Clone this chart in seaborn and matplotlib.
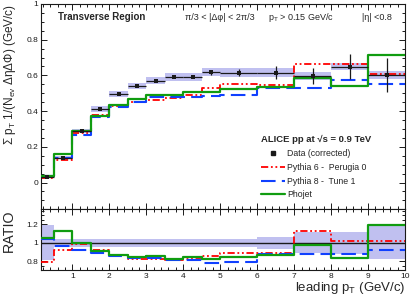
import numpy as np
import pandas as pd
import matplotlib
matplotlib.use('Agg')
import matplotlib.pyplot as plt
from matplotlib.lines import Line2D
from matplotlib.ticker import MultipleLocator, FuncFormatter
import seaborn as sns

sns.set_theme(style="ticks")
plt.rcParams['font.family'] = ['Liberation Sans', 'DejaVu Sans']
plt.rcParams['mathtext.fontset'] = 'custom'
plt.rcParams['mathtext.rm'] = 'Liberation Sans'
plt.rcParams['mathtext.it'] = 'Liberation Sans:italic'
plt.rcParams['mathtext.bf'] = 'Liberation Sans:bold'

# bins of leading pT (GeV/c)
edges = [0.15, 0.5, 1.0, 1.5, 2.0, 2.5, 3.0, 3.5, 4.0, 4.5, 5.0, 6.0, 7.0, 8.0, 9.0, 10.0]

# data (corrected), stat and syst errors
data = [0.033, 0.14, 0.288, 0.41, 0.497, 0.541, 0.570, 0.591, 0.591, 0.617, 0.616, 0.616, 0.597, 0.649, 0.600]
stat = [0.002, 0.004, 0.004, 0.005, 0.005, 0.005, 0.006, 0.006, 0.008, 0.014, 0.018, 0.035, 0.045, 0.07, 0.095]
syst = [0.004, 0.008, 0.013, 0.017, 0.018, 0.019, 0.019, 0.02, 0.02, 0.023, 0.024, 0.024, 0.02, 0.021, 0.022]

# MC predictions
pythia6 = [0.026, 0.128, 0.28, 0.38, 0.428, 0.452, 0.464, 0.476, 0.49, 0.527, 0.55, 0.545, 0.665, 0.663, 0.608]
pythia8 = [0.034, 0.135, 0.264, 0.366, 0.425, 0.452, 0.477, 0.48, 0.48, 0.486, 0.489, 0.53, 0.528, 0.573, 0.553]
phojet = [0.035, 0.157, 0.286, 0.375, 0.435, 0.468, 0.491, 0.491, 0.508, 0.508, 0.526, 0.537, 0.583, 0.542, 0.717]

# MC / data
ratio_p6 = [0.79, 0.924, 0.985, 0.927, 0.87, 0.83, 0.82, 0.81, 0.83, 0.855, 0.893, 0.885, 1.13, 1.025, 1.018]
ratio_p8 = [1.044, 0.963, 0.924, 0.887, 0.858, 0.837, 0.837, 0.815, 0.815, 0.78, 0.79, 0.88, 0.88, 0.88, 0.927]
ratio_pho = [1.055, 1.13, 1.003, 0.91, 0.872, 0.85, 0.861, 0.825, 0.85, 0.82, 0.844, 0.872, 0.975, 0.837, 1.19]
ratio_err = [0.19, 0.045, 0.045, 0.045, 0.045, 0.045, 0.045, 0.045, 0.045, 0.045, 0.045, 0.067, 0.113, 0.12, 0.178]

edges = np.array(edges)
centers = (edges[:-1] + edges[1:]) / 2
widths = np.diff(edges)

band_col = '#c0c0f0'
red = '#ff0000'
blue = '#1040ff'
green = '#109c10'

fig = plt.figure(figsize=(4.14, 3.0), dpi=100)
W, H = 414.0, 300.0
L, R = 41, 405
ax1 = fig.add_axes([L / W, 1 - 209.3 / H, (R - L) / W, (209.3 - 4) / H])
ax2 = fig.add_axes([L / W, 1 - 270 / H, (R - L) / W, (270 - 209.3) / H])


def steps(ax, vals, **kw):
    df = pd.DataFrame({'x': edges, 'y': list(vals) + [vals[-1]]})
    sns.lineplot(data=df, x='x', y='y', ax=ax, drawstyle='steps-post',
                 estimator=None, sort=False, **kw)


# top panel
ax1.bar(centers, 2 * np.array(syst), bottom=np.array(data) - np.array(syst),
        width=widths, color=band_col, linewidth=0, zorder=1)
steps(ax1, pythia6, color=red, lw=1.3, linestyle=(0, (4, 1.5, 1, 1.5, 1, 1.5)), zorder=2)
steps(ax1, pythia8, color=blue, lw=1.5, linestyle=(0, (7, 3)), zorder=2)
steps(ax1, phojet, color=green, lw=1.6, zorder=3)
ax1.errorbar(centers, data, xerr=widths / 2, yerr=stat, fmt='none',
             ecolor='k', elinewidth=0.9, capsize=0, zorder=4)
sns.scatterplot(x=centers, y=data, marker='s', color='k', s=12,
                linewidth=0, ax=ax1, zorder=5)

# ratio panel
ax2.bar(centers, 2 * np.array(ratio_err), bottom=1 - np.array(ratio_err),
        width=widths, color=band_col, linewidth=0, zorder=1)
ax2.axhline(1.0, color='k', lw=1.0, zorder=2)
steps(ax2, ratio_p6, color=red, lw=1.3, linestyle=(0, (4, 1.5, 1, 1.5, 1, 1.5)), zorder=3)
steps(ax2, ratio_p8, color=blue, lw=1.5, linestyle=(0, (7, 3)), zorder=3)
steps(ax2, ratio_pho, color=green, lw=1.6, zorder=4)

fmt = FuncFormatter(lambda v, p: ('%g' % round(v, 2)))
for ax in (ax1, ax2):
    ax.set_xlim(0.15, 10)
    ax.xaxis.set_major_locator(MultipleLocator(1))
    ax.xaxis.set_minor_locator(MultipleLocator(0.2))
    ax.tick_params(which='both', direction='in', top=True, right=True,
                   width=0.7, labelsize=6, pad=2, color='k', labelcolor='k')
    ax.tick_params(which='major', length=4)
    ax.tick_params(which='minor', length=2)
    for s in ax.spines.values():
        s.set_linewidth(0.8)
        s.set_color('k')
    ax.yaxis.set_major_formatter(fmt)

ax1.set_ylim(-0.15, 1.0)
ax1.yaxis.set_major_locator(MultipleLocator(0.2))
ax1.yaxis.set_minor_locator(MultipleLocator(0.05))
ax1.tick_params(labelbottom=False)
ax1.set_xlabel('')

ax2.set_ylim(0.705, 1.365)
ax2.set_yticks([0.8, 1.0, 1.2])
ax2.yaxis.set_minor_locator(MultipleLocator(0.05))
ax2.xaxis.set_major_formatter(FuncFormatter(lambda v, p: '%d' % v))

ax1.set_ylabel(r'Σ p$_{\mathrm{T}}$ 1/(N$_{\mathrm{ev}}$ ΔηΔΦ) (GeV/c)',
               fontsize=8.5, loc='top')
ax1.yaxis.set_label_coords(-0.064, 1.0)
ax2.set_ylabel('RATIO', fontsize=10.3, loc='top')
ax2.yaxis.set_label_coords(-0.07, 1.0)
ax2.set_xlabel(r'leading p$_{\mathrm{T}}$ (GeV/c)', fontsize=9.5, loc='right')
ax2.xaxis.set_label_coords(1.0, -0.17)

# header texts
def fx(px):
    return (px - L) / (R - L)

def fy(py):
    return 1 - (py - 4) / 205.3

ax1.text(fx(58), fy(17.5), 'Transverse Region', transform=ax1.transAxes,
         fontsize=7, fontweight='bold', va='center', ha='left')
ax1.text(fx(185), fy(17.5), 'π/3 < |Δφ| < 2π/3', transform=ax1.transAxes,
         fontsize=6.5, va='center', ha='left')
ax1.text(fx(268), fy(17.5), r'p$_{\mathrm{T}}$ > 0.15 GeV/c', transform=ax1.transAxes,
         fontsize=6.5, va='center', ha='left')
ax1.text(fx(362), fy(17.5), '|η| <0.8', transform=ax1.transAxes,
         fontsize=6.5, va='center', ha='left')

handles = [
    Line2D([], [], color='k', marker='s', markersize=2.5, linestyle='none'),
    Line2D([], [], color=red, lw=1.3, linestyle=(0, (4, 1.5, 1, 1.5, 1, 1.5))),
    Line2D([], [], color=blue, lw=1.5, linestyle=(0, (7, 3))),
    Line2D([], [], color=green, lw=1.6),
]
labels = ['Data (corrected)', 'Pythia 6 -  Perugia 0', 'Pythia 8 -  Tune 1', 'Phojet']
leg = ax1.legend(handles, labels, loc='upper left', bbox_to_anchor=(fx(261), fy(135)),
                 frameon=False, fontsize=6.3, handlelength=2.7, handletextpad=0.3,
                 labelspacing=0.55, borderpad=0, borderaxespad=0,
                 title='ALICE pp at √s = 0.9 TeV', alignment='left',
                 title_fontproperties={'weight': 'bold', 'size': 6.8})

fig.savefig('out.png', dpi=100)
